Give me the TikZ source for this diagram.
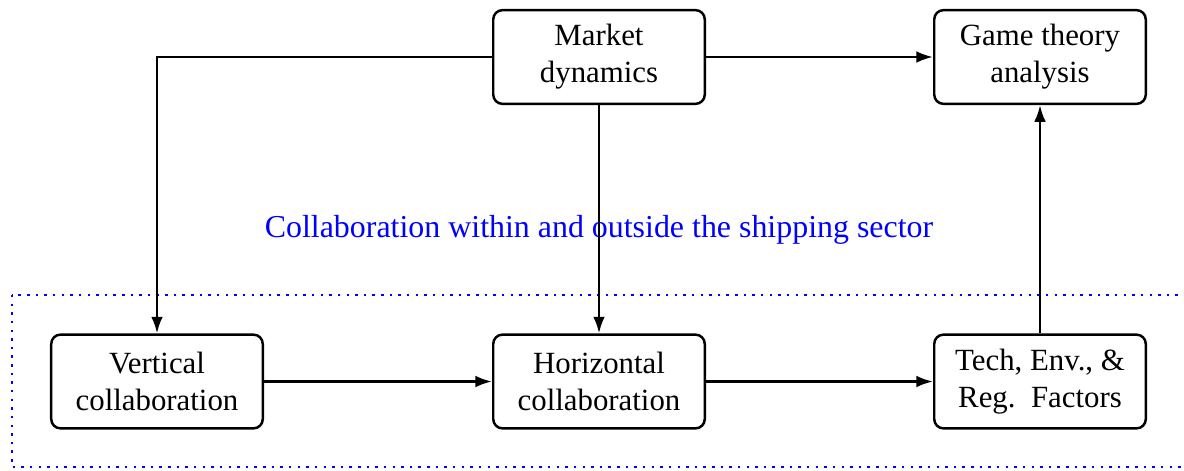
\documentclass[tikz,border=0pt]{standalone}
\usepackage{fontspec}
\setmainfont{Liberation Serif}
\usetikzlibrary{arrows.meta}
\begin{document}
\begin{tikzpicture}[x=0.3243pt,y=-0.3243pt,
  blockbox/.style={draw,thick,rounded corners=3pt,minimum width=68.6pt,minimum height=30.4pt,
    align=center,font=\fontsize{10}{12}\selectfont,inner sep=0pt},
  flow/.style={thick,-{Latex[length=5.4pt,width=3.8pt]}}]
\clip (0,0) rectangle (1184,470);
\useasboundingbox (0,0) rectangle (1184,470);
% collaboration frame
\draw[blue,thick,dotted] (12,295) rectangle (1200,467);
\node[blue,font=\fontsize{10.35}{12}\selectfont,anchor=base] (frametitle) at (599,237) {Collaboration within and outside the shipping sector};
% blocks
\node[blockbox] (market) at (599,57) {Market\\dynamics};
\node[blockbox] (game) at (1040,57) {Game theory\\analysis};
\node[blockbox] (vert) at (157,381.5) {Vertical\\collaboration};
\node[blockbox] (horiz) at (599,381.5) {Horizontal\\collaboration};
\node[blockbox] (tech) at (1040,381.5) {Tech, Env., \&\\Reg.\ \ Factors};
% connectors
\draw[flow] (market.west) -| (vert.north);
\draw[flow] (market.south) -- (horiz.north);
\draw[flow] (market.east) -- (game.west);
\draw[flow] (vert.east) -- (horiz.west);
\draw[flow] (horiz.east) -- (tech.west);
\draw[flow] (tech.north) -- (game.south);
\end{tikzpicture}
\end{document}
